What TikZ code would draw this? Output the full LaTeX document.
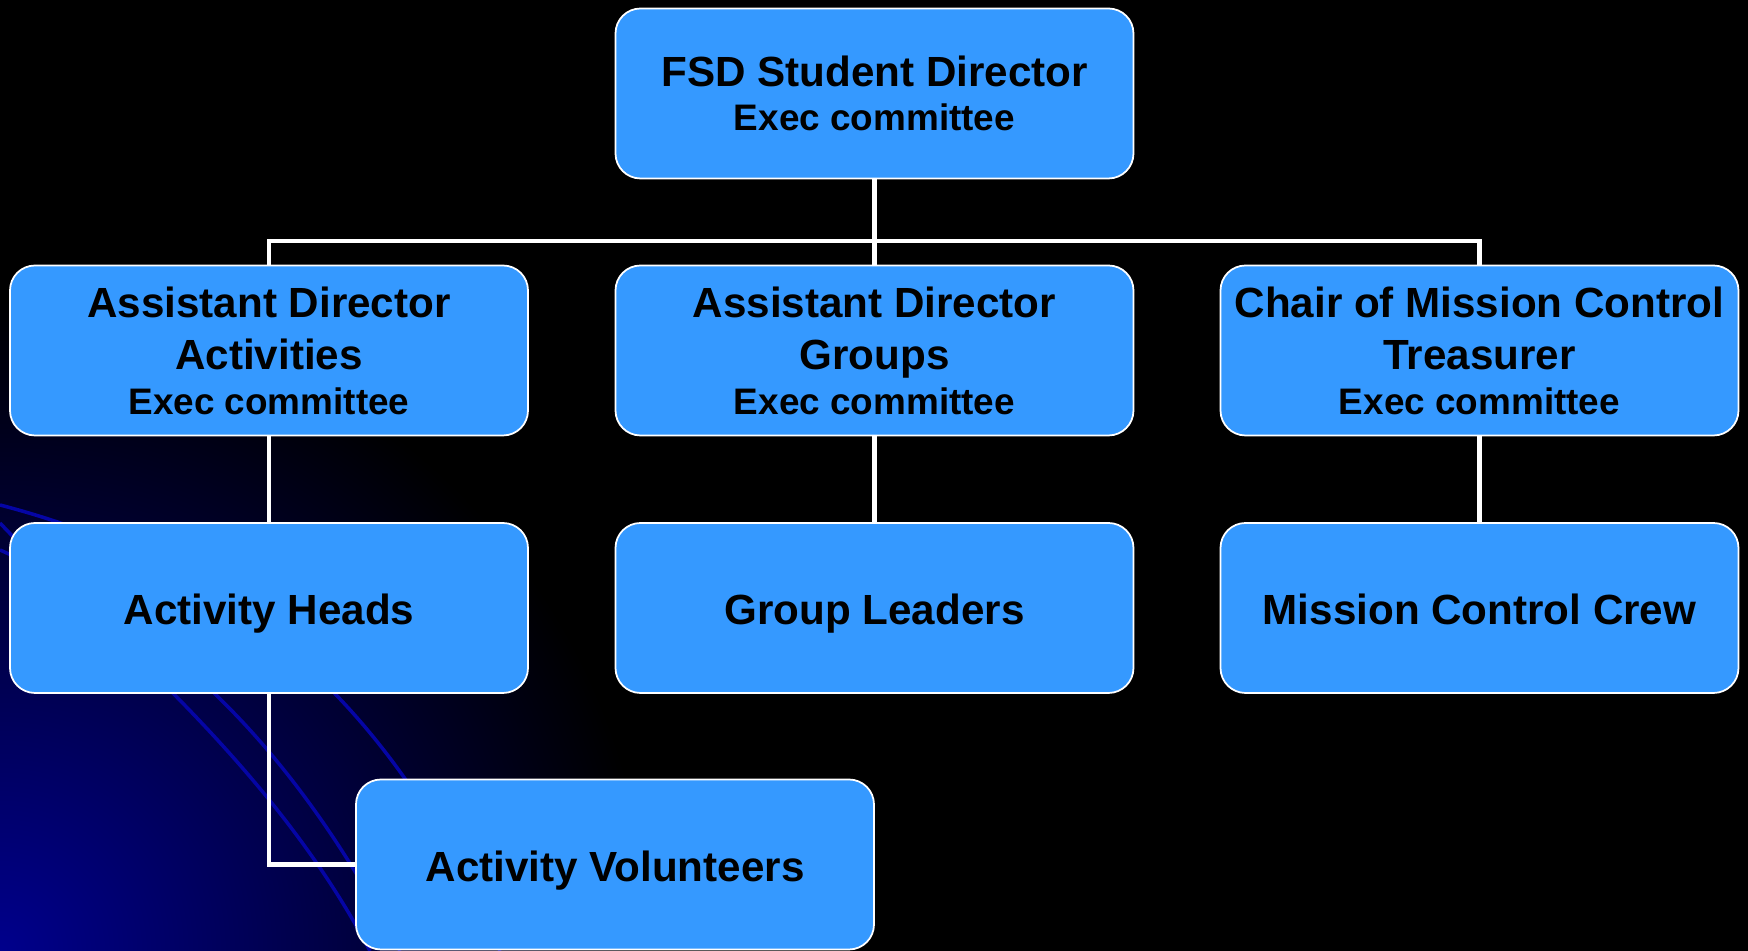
\documentclass[tikz,border=0pt]{standalone}
\usepackage{fontspec}
\setmainfont{Liberation Sans}
\usepackage{xcolor}
\usepackage{tikz}
\usetikzlibrary{
    calc,
    positioning
}
\definecolor{boxblue}{RGB}{53,153,255}
\definecolor{deepnavy}{RGB}{0,0,140}
\definecolor{streak}{RGB}{5,5,165}
\tikzset{
    orgbox/.style={draw=white, line width=0.5pt, fill=boxblue, rounded corners=0.25cm,
        minimum width=5.18cm, minimum height=1.70cm, inner sep=1pt, align=center,
        text=black, font=\bfseries\fontsize{12}{15}\selectfont},
    onebox/.style={orgbox, text height=9.6pt, text depth=0pt},
    link/.style={draw=white, line width=1.2pt}
}
\newcommand{\execline}{\\[-2.4pt]{\fontsize{10.5}{13}\selectfont Exec committee}}

\begin{document}
\begin{tikzpicture}
        \useasboundingbox (0,0) rectangle (17.48,-9.51);
        \fill[black] (0,0) rectangle (17.48,-9.51);
        \begin{scope}
            \clip (0,0) rectangle (17.48,-9.51);
            \shade[inner color=deepnavy, outer color=black] (0,-9.51) circle (6.5);
            \draw[streak, line width=1pt] (0,-5.23) .. controls (1.0,-6.3) and (2.7,-7.6) .. (3.7,-9.51);
            \draw[streak, line width=1pt] (0,-5.50) .. controls (1.8,-6.3) and (3.0,-7.6) .. (4.0,-9.51);
            \draw[streak, line width=1pt] (0,-5.05) .. controls (2.5,-5.7) and (4.0,-7.2) .. (5.0,-9.51);
        \end{scope}

        \node[orgbox] (fsd)   at ( 8.745,-0.935) {FSD Student Director\execline};

        \node[orgbox] (aact)  at ( 2.690,-3.505) {Assistant Director\\Activities\execline};
        \node[orgbox] (agrp)  at ( 8.745,-3.505) {Assistant Director\\Groups\execline};
        \node[orgbox] (chair) at (14.795,-3.505) {Chair of Mission Control\\Treasurer\execline};

        \node[onebox] (heads) at ( 2.690,-6.080) {Activity Heads};
        \node[onebox] (lead)  at ( 8.745,-6.080) {Group Leaders};
        \node[onebox] (crew)  at (14.795,-6.080) {Mission Control Crew};

        \node[onebox] (vol)   at ( 6.150,-8.645) {Activity Volunteers};

        \coordinate (bar) at (8.745,-2.41);

        \draw[link] (fsd) -- (agrp);
        \draw[link] (aact) |- (bar) -| (chair);
        \draw[link] (aact) -- (heads);
        \draw[link] (agrp) -- (lead);
        \draw[link] (chair) -- (crew);
        \draw[link] (heads) |- (vol);
    \end{tikzpicture}
\end{document}
